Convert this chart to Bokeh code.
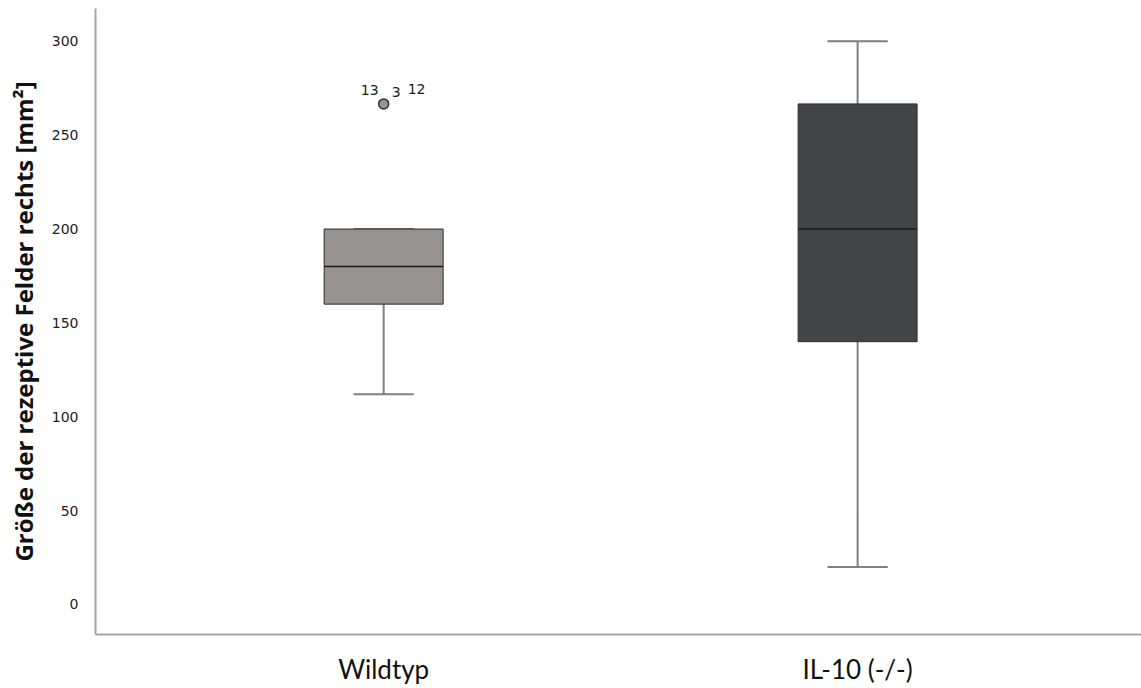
from bokeh.plotting import figure
from bokeh.models import ColumnDataSource, FixedTicker, Range1d
from bokeh.core.properties import value
from bokeh.embed import file_html
from bokeh.resources import INLINE

# Group summary statistics (mm²)
groups = ["Wildtyp", "IL-10 (-/-)"]
positions = [1, 2]
q1 = [160, 140]
median = [180, 200]
q3 = [200, 266.67]
whisker_low = [112, 20]
whisker_high = [200, 300]
fills = ["#979391", "#434446"]

# Outliers: group position, value, case labels
outlier_x = [1]
outlier_y = [266.67]
case_labels = ["13", "3", "12"]
case_x_off = [-5, 8, 24]
case_y_off = [-14, -12, -15]
case_align = ["right", "left", "left"]

y_ticks = [0, 50, 100, 150, 200, 250, 300]

box_w = 0.251
cap_w = 0.127

p = figure(width=1141, height=688, output_backend="svg", toolbar_location=None,
           x_range=Range1d(0.392, 2.599), y_range=Range1d(-16, 317.5),
           min_border_left=95, min_border_right=0, min_border_top=8, min_border_bottom=54)
p.outline_line_color = None
p.grid.visible = False
p.background_fill_color = "white"
p.border_fill_color = "white"

src = ColumnDataSource(dict(x=positions, q1=q1, med=median, q3=q3,
                            lo=whisker_low, hi=whisker_high, fill=fills))

# whiskers
p.segment(x0="x", x1="x", y0="lo", y1="q1", source=src, line_color="#7f7f7f", line_width=2)
p.segment(x0="x", x1="x", y0="q3", y1="hi", source=src, line_color="#7f7f7f", line_width=2)
# caps
cap_l = [x - cap_w / 2 for x in positions]
cap_r = [x + cap_w / 2 for x in positions]
caps = ColumnDataSource(dict(x0=cap_l + cap_l, x1=cap_r + cap_r,
                             y=whisker_low + whisker_high))
p.segment(x0="x0", x1="x1", y0="y", y1="y", source=caps, line_color="#7f7f7f", line_width=2)
# boxes
p.vbar(x="x", width=box_w, bottom="q1", top="q3", source=src,
       fill_color="fill", line_color="#2b2b2b", line_width=1)
# medians
p.segment(x0=[x - box_w / 2 for x in positions], x1=[x + box_w / 2 for x in positions],
          y0=median, y1=median, line_color="#1a1a1a", line_width=1.5)

# outliers
p.scatter(x=outlier_x, y=outlier_y, size=10, fill_color="#979391",
          line_color="#333333", line_width=1.5)
lab = ColumnDataSource(dict(x=[outlier_x[0]] * len(case_labels), y=[outlier_y[0]] * len(case_labels),
                            t=case_labels, xo=case_x_off, yo=case_y_off, al=case_align))
p.text(x="x", y="y", text="t", x_offset="xo", y_offset="yo", text_align="al",
       text_baseline="middle", source=lab, text_font=value("DejaVu Sans"),
       text_font_size="14px", text_color="#222222")

# axes
p.yaxis.ticker = FixedTicker(ticks=y_ticks)
p.yaxis.axis_label = "Größe der rezeptive Felder rechts [mm²]"
p.yaxis.axis_label_text_font = "Open Sans"
p.yaxis.axis_label_text_font_style = "bold"
p.yaxis.axis_label_text_font_size = "24px"
p.yaxis.axis_label_text_color = "#111111"
p.yaxis.axis_label_standoff = 9
p.yaxis.major_label_text_font = "DejaVu Sans"
p.yaxis.major_label_text_font_size = "14px"
p.yaxis.major_label_text_color = "#222222"
p.yaxis.major_label_standoff = 11

p.xaxis.ticker = FixedTicker(ticks=positions)
p.xaxis.major_label_overrides = {pos: g for pos, g in zip(positions, groups)}
p.xaxis.major_label_text_font = "Lato"
p.xaxis.major_label_text_font_size = "26px"
p.xaxis.major_label_text_color = "#111111"
p.xaxis.major_label_standoff = 12

for ax in (p.xaxis, p.yaxis):
    ax.axis_line_color = "#a6a6a6"
    ax.axis_line_width = 2
    ax.major_tick_line_color = None
    ax.minor_tick_line_color = None

open("out.html", "w").write(file_html(p, INLINE))
